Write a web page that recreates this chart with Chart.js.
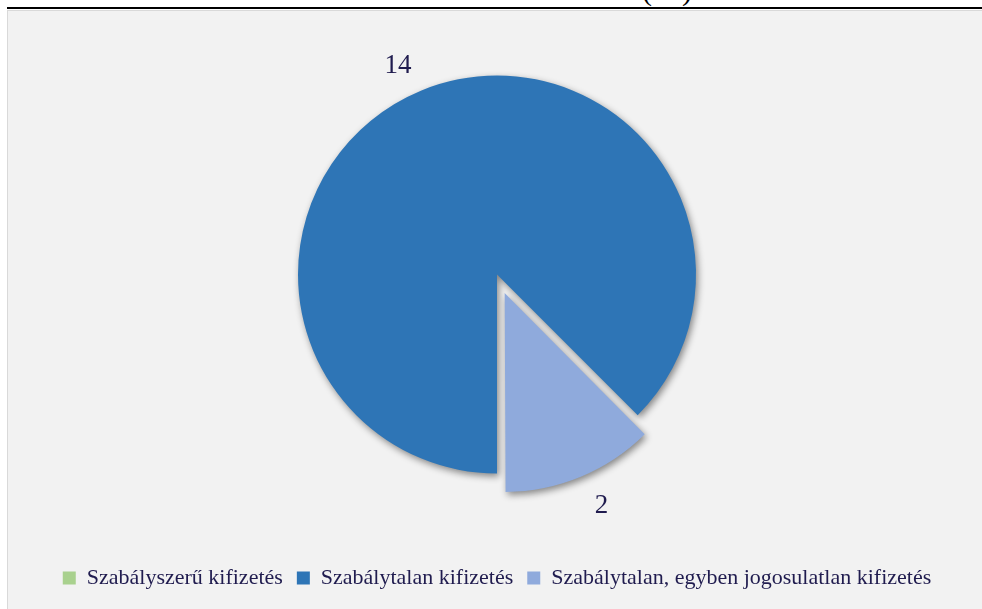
<!DOCTYPE html>
<html>
<head>
<meta charset="utf-8">
<script src="https://cdn.jsdelivr.net/npm/chart.js@4/dist/chart.umd.min.js"></script>
<style>
  html, body { margin: 0; padding: 0; background: #ffffff; overflow: hidden; width: 982px; height: 609px; }
  #frame { position: absolute; left: 7px; top: 10px; width: 980px; height: 605px; background: #f2f2f2; border: 1px solid #d9d9d9; }
  #rule { position: absolute; left: 7px; top: 7px; width: 975px; height: 2px; background: #000; }
  #ttl { position: absolute; left: 600px; width: 134px; top: -25px; text-align: center; font-family: "Liberation Serif", serif; font-size: 30px; line-height: 30px; color: #000; }
  #c { position: absolute; left: 0; top: -40px; }
</style>
</head>
<body>
<div id="frame"></div>
<div id="ttl">(db)</div>
<div id="rule"></div>
<canvas id="c" width="982" height="649"></canvas>
<script>
const categories = ["Szabályszerű kifizetés", "Szabálytalan kifizetés", "Szabálytalan, egyben jogosulatlan kifizetés"];
const values = [0, 14, 2];
const colors = ["#a9d18e", "#2e75b6", "#8faadc"];
const explode = [0, 0, 80];
const textColor = "#201c4f";

const shadowAndLabels = {
  id: 'shadowAndLabels',
  afterDatasetUpdate(chart, args) {
    // keep exploded slices at the same radius as the rest of the pie
    args.meta.data.forEach(arc => {
      const off = (arc.options.offset || 0) / 4;
      if (!off) return;
      const circ = arc.endAngle - arc.startAngle;
      const fix = 1 - Math.sin(Math.min(Math.PI, circ || 0));
      arc.outerRadius = arc.outerRadius - off * fix;
    });
  },
  beforeDatasetsDraw(chart) {
    const ctx = chart.ctx;
    ctx.save();
    ctx.shadowColor = 'rgba(0,0,0,0.45)';
    ctx.shadowBlur = 7;
    ctx.shadowOffsetX = 2;
    ctx.shadowOffsetY = 3;
  },
  afterDatasetsDraw(chart) {
    const ctx = chart.ctx;
    ctx.restore();
    const meta = chart.getDatasetMeta(0);
    ctx.save();
    ctx.fillStyle = textColor;
    ctx.font = '27px "Liberation Serif", serif';
    ctx.textAlign = 'center';
    ctx.textBaseline = 'middle';
    meta.data.forEach((arc, i) => {
      const v = chart.data.datasets[0].data[i];
      if (!v) return;
      const p = arc.getProps(['x', 'y', 'startAngle', 'endAngle']);
      const mid = (p.startAngle + p.endAngle) / 2;
      const off = (arc.options.offset || 0) / 4;
      const cx = p.x + Math.cos(mid) * off;
      const cy = p.y + Math.sin(mid) * off;
      const r = arc.outerRadius + 32;
      ctx.fillText(String(v), cx + Math.cos(mid) * (r + 28), cy + Math.sin(mid) * r + 5);
    });
    ctx.restore();
  }
};

new Chart(document.getElementById('c'), {
  type: 'pie',
  data: {
    labels: categories,
    datasets: [{
      data: values,
      backgroundColor: colors,
      borderWidth: 0,
      offset: explode,
      hoverOffset: 0,
      radius: 199
    }]
  },
  options: {
    responsive: false,
    devicePixelRatio: 1,
    animation: false,
    rotation: 180,
    layout: { padding: { left: 12, right: 0, top: 36, bottom: 10 } },
    plugins: {
      tooltip: { enabled: false },
      legend: {
        position: 'bottom',
        labels: {
          boxWidth: 13,
          boxHeight: 13,
          padding: 14,
          color: textColor,
          font: { family: '"Liberation Serif", serif', size: 22 }
        }
      }
    }
  },
  plugins: [shadowAndLabels]
});
</script>
</body>
</html>
